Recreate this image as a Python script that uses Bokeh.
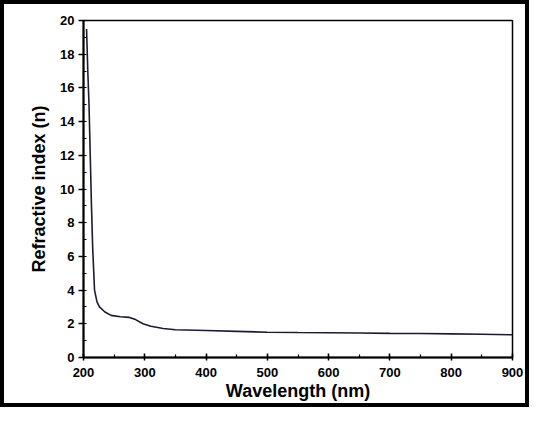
from bokeh.plotting import figure
from bokeh.models import Range1d, SingleIntervalTicker
from bokeh.embed import file_html
from bokeh.resources import INLINE

# Data
wavelength = [205, 207, 209, 211, 213, 215, 218, 222, 226, 235, 245, 260, 275, 285,
              297, 310, 330, 350, 400, 450, 500, 550, 600, 650, 700, 750, 800, 850, 900]
refr_index = [19.5, 17.0, 15.0, 12.0, 9.0, 6.5, 4.0, 3.3, 3.0, 2.7, 2.5, 2.42, 2.38, 2.25,
              2.0, 1.85, 1.72, 1.65, 1.6, 1.55, 1.5, 1.48, 1.47, 1.45, 1.43, 1.42, 1.4, 1.38, 1.35]
x_label = "Wavelength (nm)"
y_label = "Refractive index (n)"

p = figure(width=529, height=407, output_backend="svg", toolbar_location=None,
           x_range=Range1d(200, 900), y_range=Range1d(0, 20),
           min_border_left=79, min_border_top=16, min_border_right=13, min_border_bottom=46,
           styles={"border": "4px solid black"})
p.frame_width = 429
p.frame_height = 337

p.line(wavelength, refr_index, line_color="#1b1b33", line_width=1.6)

p.xgrid.visible = False
p.ygrid.visible = False
p.outline_line_color = "black"
p.outline_line_width = 1.5
p.outline_line_alpha = 1.0
p.background_fill_color = "white"
p.border_fill_color = "white"

p.xaxis.ticker = SingleIntervalTicker(interval=100, num_minor_ticks=2)
p.yaxis.ticker = SingleIntervalTicker(interval=2, num_minor_ticks=2)

for ax in (p.xaxis[0], p.yaxis[0]):
    ax.axis_line_width = 2
    ax.axis_line_color = "black"
    ax.major_tick_line_color = "black"
    ax.minor_tick_line_color = "black"
    ax.major_tick_line_width = 1.5
    ax.minor_tick_line_width = 1.2
    ax.major_label_text_font = "Liberation Sans"
    ax.major_label_text_font_style = "bold"
    ax.major_label_text_font_size = "13px"
    ax.major_label_text_color = "black"
    ax.axis_label_text_font = "Liberation Sans"
    ax.axis_label_text_font_style = "bold"
    ax.axis_label_text_color = "black"

p.xaxis.major_tick_in = 4
p.xaxis.major_tick_out = 3
p.xaxis.minor_tick_in = 3
p.xaxis.minor_tick_out = 0
p.yaxis.major_tick_in = 0
p.yaxis.major_tick_out = 5
p.yaxis.minor_tick_in = 3
p.yaxis.minor_tick_out = 0

p.xaxis.axis_label = x_label
p.yaxis.axis_label = y_label
p.xaxis.axis_label_text_font_size = "18px"
p.yaxis.axis_label_text_font_size = "18px"
p.xaxis.major_label_standoff = 7
p.yaxis.major_label_standoff = 4
p.xaxis.axis_label_standoff = 1
p.yaxis.axis_label_standoff = 8

open("out.html", "w").write(file_html(p, INLINE))
